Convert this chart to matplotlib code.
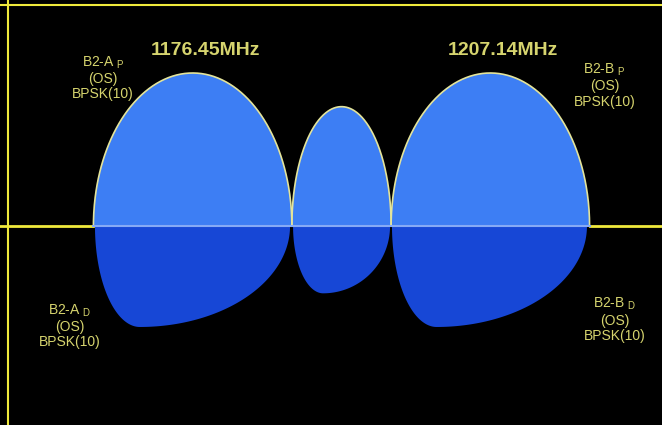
import numpy as np
import matplotlib.pyplot as plt

# fontes parecidas com Arial
plt.rcParams['font.family'] = ['Liberation Sans', 'DejaVu Sans']
plt.rcParams['mathtext.fontset'] = 'custom'
plt.rcParams['mathtext.rm'] = 'Liberation Sans'
plt.rcParams['mathtext.it'] = 'Liberation Sans'

# portadoras B2a / B2b (MHz)
portadoras = [1176.45, 1207.14]
rotulos_portadora = ['1176.45MHz', '1207.14MHz']

# lobos de cima (piloto): inicio, fim, altura relativa
lobo_sup_ini = [1166.22, 1186.68, 1196.91]
lobo_sup_fim = [1186.68, 1196.91, 1217.37]
lobo_sup_alt = [1.0, 0.78, 1.0]

# lobos de baixo (dados): inicio, ponto mais fundo, fim, profundidade
lobo_inf_ini = [1166.38, 1186.80, 1197.00]
lobo_inf_fundo = [1171.0, 1189.9, 1201.6]
lobo_inf_fim = [1186.49, 1196.80, 1217.10]
lobo_inf_prof = [0.66, 0.44, 0.66]

rotulos_sinal = ['B2-A $_{P}$\n(OS)\nBPSK(10)', 'B2-B $_{P}$\n(OS)\nBPSK(10)',
                 'B2-A $_{D}$\n(OS)\nBPSK(10)', 'B2-B $_{D}$\n(OS)\nBPSK(10)']

AMARELO = '#f0ea3c'
CONTORNO = '#e4e49a'
TEXTO = '#d6d46e'
AZUL_CLARO = '#3d7ef4'
AZUL_ESCURO = '#1747d6'

fig = plt.figure(figsize=(6.62, 4.25), dpi=100, facecolor='black')
ax = fig.add_axes([0, 0, 1, 1])
ax.set_facecolor('black')
ax.axis('off')

# escala: ~9.7 px por MHz, 153 px por unidade de altura
centro = (portadoras[0] + portadoras[1]) / 2
ax.set_xlim(centro - 341.5 / 9.7, centro + (662 - 341.5) / 9.7)
ax.set_ylim(-(425 - 226) / 153, 226 / 153)

# lobos de baixo: dois quartos de elipse unidos no fundo
for ini, fundo, fim, prof in zip(lobo_inf_ini, lobo_inf_fundo, lobo_inf_fim, lobo_inf_prof):
    th = np.linspace(0, np.pi, 300)
    raio = np.where(th < np.pi / 2, fim - fundo, fundo - ini)
    x = fundo + raio * np.cos(th)
    y = -prof * np.sin(th)
    ax.fill(x, y, color=AZUL_ESCURO, lw=0, zorder=2)

# lobos de cima: meias elipses com contorno amarelo
for ini, fim, alt in zip(lobo_sup_ini, lobo_sup_fim, lobo_sup_alt):
    th = np.linspace(0, np.pi, 300)
    c = (ini + fim) / 2
    w = (fim - ini) / 2
    x = c + w * np.cos(th)
    y = alt * np.sin(th)
    ax.fill(x, y, color=AZUL_CLARO, lw=0, zorder=3)
    ax.plot(x, y, color=CONTORNO, lw=1.2, zorder=4)

# linha de base: amarela fora dos lobos, azul clara dentro
ax.plot([ax.get_xlim()[0], lobo_sup_ini[0]], [0, 0], color=AMARELO, lw=2, zorder=4)
ax.plot([lobo_sup_fim[-1], ax.get_xlim()[1]], [0, 0], color=AMARELO, lw=2, zorder=4)
ax.plot([lobo_sup_ini[0], lobo_sup_fim[-1]], [0, 0], color='#86aaf6', lw=1.5, zorder=4)

# moldura amarela (topo e esquerda)
ax.axhline((226 - 5) / 153, color=AMARELO, lw=1.5, zorder=5)
ax.axvline(centro - (341.5 - 8) / 9.7, color=AMARELO, lw=1.5, zorder=5)

# frequencias das portadoras
for f, txt in zip(portadoras, rotulos_portadora):
    ax.text(f + 1.3, 1.15, txt, color=TEXTO, fontsize=14, fontweight='bold',
            ha='center', va='center', zorder=6)

# rotulos dos sinais
pos_rotulos = [(1167.2, 0.97), (1218.9, 0.92), (1163.8, -0.65), (1220.0, -0.61)]
for (px, py), txt in zip(pos_rotulos, rotulos_sinal):
    ax.text(px, py, txt, color=TEXTO, fontsize=10, ha='center', va='center',
            multialignment='center', linespacing=1.1, zorder=6)

fig.savefig('out.png', dpi=100, facecolor='black')
